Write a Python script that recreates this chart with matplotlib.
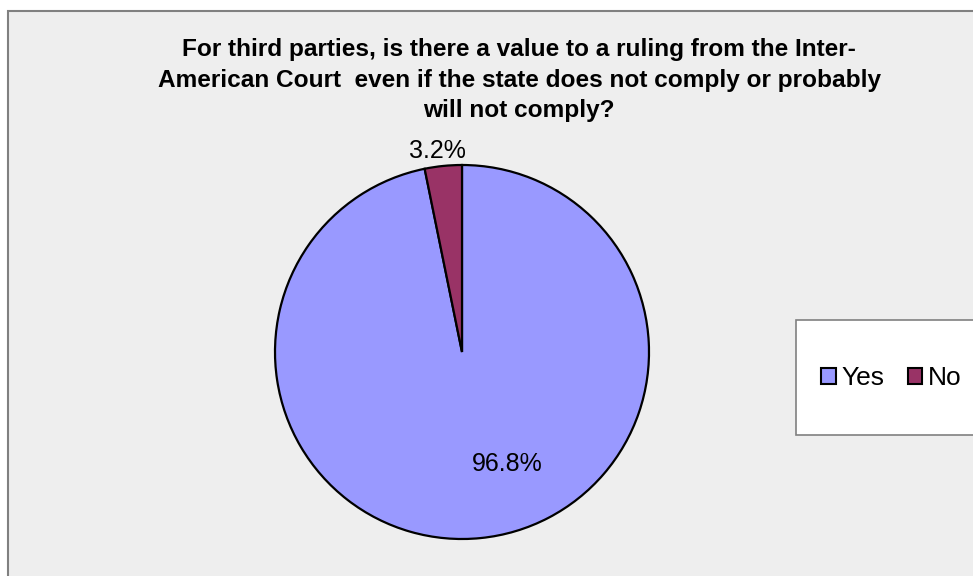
import matplotlib.pyplot as plt
from matplotlib.patches import Rectangle

# data
labels = ["Yes", "No"]
values = [96.8, 3.2]
colors = ["#9999FF", "#993366"]
title = ("For third parties, is there a value to a ruling from the Inter-\n"
         "American Court  even if the state does not comply or probably\n"
         "will not comply?")

plt.rcParams['font.family'] = ['Liberation Sans', 'DejaVu Sans']

W, H = 973, 576
fig = plt.figure(figsize=(W / 100, H / 100), dpi=100)
fig.patch.set_facecolor("white")

# chart area background with grey frame
fig.patches.append(Rectangle((8 / W, -0.01), 1.0, 1 - 11 / H + 0.01,
                             transform=fig.transFigure, facecolor="#EEEEEE",
                             edgecolor="#808080", linewidth=1.5, zorder=0))

# pie axes: center (462, 352) px, radius 187 px
cx, cy, r = 462, 352, 187
ax = fig.add_axes([(cx - r) / W, (H - cy - r) / H, 2 * r / W, 2 * r / H])
ax.set_zorder(2)
ax.patch.set_visible(False)
wedges, _ = ax.pie(values, colors=colors, startangle=90, counterclock=False,
                   wedgeprops=dict(edgecolor="black", linewidth=1.6))
ax.set_xlim(-1, 1)
ax.set_ylim(-1, 1)
ax.set_aspect("equal")
ax.axis("off")

# percentage labels
ax.text(0.24, -0.60, f"{values[0]:.1f}%", ha="center", va="center", fontsize=18)
ax.text(-0.13, 1.075, f"{values[1]:.1f}%", ha="center", va="center", fontsize=18)

fig.text(519 / W, 1 - 80 / H, title, ha="center", va="center",
         fontsize=17.6, fontweight="bold", linespacing=1.43)

# legend box cut off at right edge
fig.patches.append(Rectangle((796 / W, 1 - 435 / H), 0.3, 115 / H,
                             transform=fig.transFigure, facecolor="white",
                             edgecolor="#808080", linewidth=1.2, zorder=1))
leg = fig.legend(wedges, labels, loc="center left", bbox_to_anchor=(808 / W, 1 - 378 / H),
                 ncol=2, frameon=False, fontsize=19, handlelength=0.55, handleheight=0.55,
                 handletextpad=0.2, columnspacing=0.9, borderpad=0)
for h in leg.legend_handles:
    h.set_linewidth(1.5)

fig.savefig("out.png", dpi=100)
